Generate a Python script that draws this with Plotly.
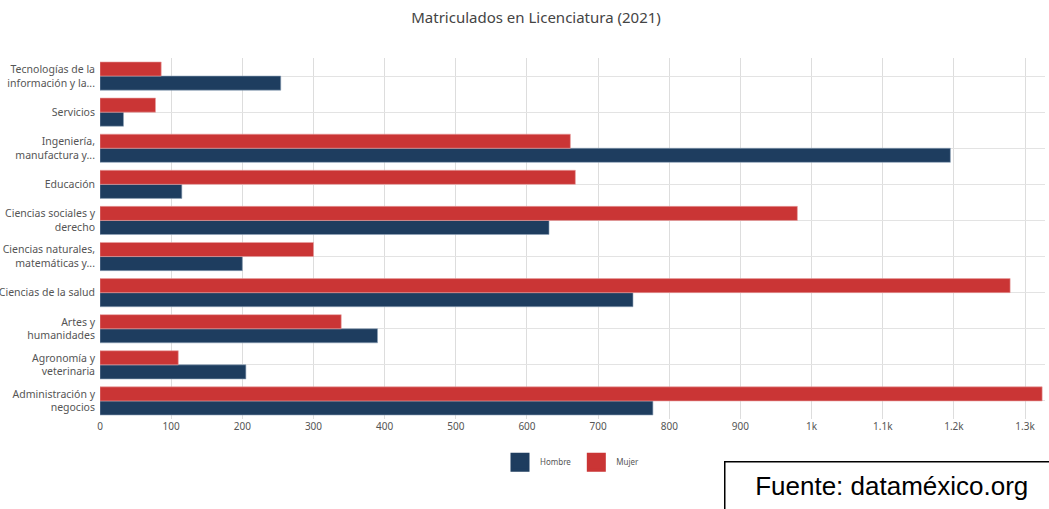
import plotly.graph_objects as go

# Categories listed bottom -> top
categorias = [
    "Administración y<br>negocios",
    "Agronomía y<br>veterinaria",
    "Artes y<br>humanidades",
    "Ciencias de la salud",
    "Ciencias naturales,<br>matemáticas y...",
    "Ciencias sociales y<br>derecho",
    "Educación",
    "Ingeniería,<br>manufactura y...",
    "Servicios",
    "Tecnologías de la<br>información y la...",
]
hombre = [777, 205, 390, 749, 200, 631, 115, 1195, 33, 254]
mujer = [1324, 110, 339, 1279, 300, 980, 668, 661, 78, 86]

tick_vals = [0, 100, 200, 300, 400, 500, 600, 700, 800, 900, 1000, 1100, 1200, 1300]
tick_text = ["0", "100", "200", "300", "400", "500", "600", "700", "800", "900",
             "1k", "1.1k", "1.2k", "1.3k"]

AZUL = "#1E3D5F"
ROJO = "#CA3535"
FONT = "Noto Sans"

fig = go.Figure()
fig.add_trace(go.Bar(
    y=categorias, x=hombre, name="Hombre", orientation="h", showlegend=False,
    marker=dict(color=AZUL, line=dict(color="#8FA3B8", width=0.6)),
))
fig.add_trace(go.Bar(
    y=categorias, x=mujer, name="Mujer", orientation="h", showlegend=False,
    marker=dict(color=ROJO, line=dict(color="#E8A0A0", width=0.6)),
))
# Legend swatches (larger squares, like the reference)
for nombre, color in (("Hombre", AZUL), ("Mujer", ROJO)):
    fig.add_trace(go.Scatter(
        x=[None], y=[None], mode="markers", name=nombre, showlegend=True,
        marker=dict(symbol="square", size=22, color=color,
                    line=dict(color=color, width=3)),
        hoverinfo="skip",
    ))

fig.update_layout(
    width=1049, height=509,
    barmode="group", bargap=0.22, bargroupgap=0.0,
    paper_bgcolor="white", plot_bgcolor="white",
    margin=dict(l=100, r=4, t=58, b=90),
    title=dict(text="Matriculados en Licenciatura (2021)", x=0.511, xanchor="center",
               y=0.965, yanchor="middle",
               font=dict(family=FONT, size=15, color="#444444")),
    font=dict(family=FONT, size=11, color="#555555"),
    legend=dict(orientation="h", x=0.5, xanchor="center", y=-0.12, yanchor="middle",
                font=dict(size=8, color="#555555"), itemwidth=30,
                itemsizing="trace"),
    showlegend=True,
)
fig.update_xaxes(
    range=[0, 1328], tickvals=tick_vals, ticktext=tick_text,
    showgrid=True, gridcolor="#DDDDDD", gridwidth=1, zeroline=False,
    tickfont=dict(size=10, color="#555555"), ticks="", showline=False,
)
fig.update_yaxes(
    showgrid=True, gridcolor="#E3E3E3", gridwidth=1, automargin=False,
    tickfont=dict(size=10.5, color="#555555"), ticks="", showline=False,
    ticklabelstandoff=4,
)
fig.add_annotation(
    xref="paper", yref="paper", x=0.66, y=-0.116, xanchor="left", yanchor="top",
    text="&nbsp;&nbsp;&nbsp;Fuente: dataméxico.org", showarrow=False,
    width=345, height=52, align="left", valign="top",
    font=dict(family="Arial", size=26, color="#000000"),
    bordercolor="#000000", borderwidth=1.5, borderpad=8, bgcolor="white",
)

fig.write_html("out.html", config={"displayModeBar": False},
               post_script="document.body.style.margin='0';")
